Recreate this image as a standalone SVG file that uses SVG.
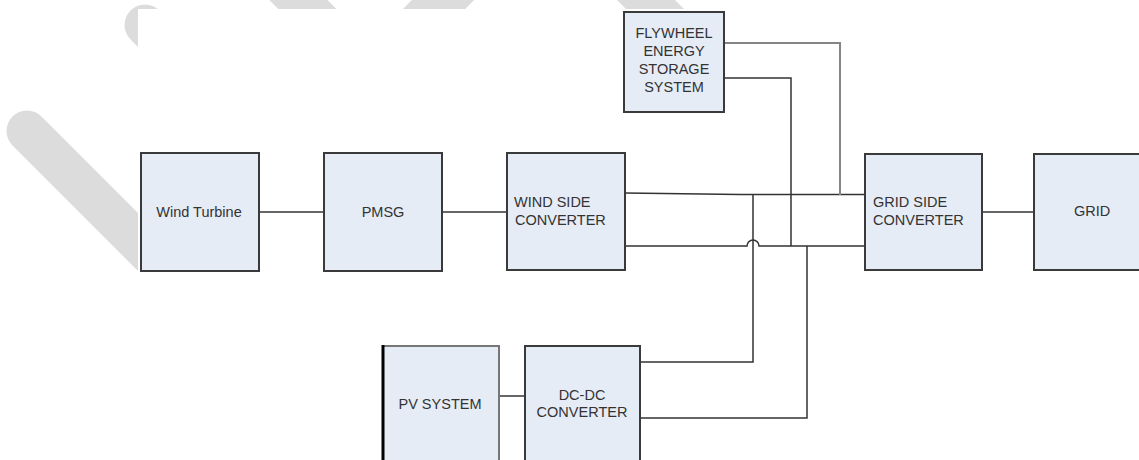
<svg xmlns="http://www.w3.org/2000/svg" width="1139" height="460" viewBox="0 0 1139 460">
<style>
.node{fill:#E6ECF6;stroke:#3a3a3a;stroke-width:2}
.lbl{font-family:"Liberation Sans",Arial,sans-serif;font-size:14.5px;fill:#333}
.mid{text-anchor:middle}
.wire{fill:none;stroke:#333;stroke-width:1.5}
.wire-gray{fill:none;stroke:#858585;stroke-width:2}
.stripe{stroke:#DCDCDC;stroke-width:41;fill:none}
</style>
<rect width="1139" height="460" fill="#fff"/>
<g id="watermark">
<line class="stripe" x1="27" y1="131" x2="200" y2="304" stroke-linecap="round"/>
<line class="stripe" x1="145" y1="25" x2="300" y2="180" stroke-linecap="round"/>
<line class="stripe" x1="250" y1="-48" x2="400" y2="101"/>
<line class="stripe" x1="480" y1="-37" x2="300" y2="143" style="stroke-width:44"/>
<line class="stripe" x1="600" y1="-46" x2="750" y2="104"/>
<rect x="138" y="9" width="1001" height="451" fill="#fff"/>
</g>
<g id="connectors">
<path class="wire" d="M259 212H324"/>
<path class="wire" d="M442 212H507"/>
<path class="wire" d="M982 212H1034"/>
<path class="wire" d="M499 396H525"/>
<path class="wire" d="M625 193L740 194.5H865"/>
<path class="wire" d="M625 246H747A6 6 0 0 1 759 246H865"/>
<path class="wire" d="M753 194.5V362H640"/>
<path class="wire" d="M724 78H791V246"/>
<path class="wire-gray" d="M724 43H840V195"/>
<path class="wire" d="M637 418H807V246"/>
</g>
<g id="wind-turbine">
<rect class="node" x="141" y="153" width="118" height="118"/>
<text class="lbl mid" x="199" y="216.5">Wind Turbine</text>
</g>
<g id="pmsg">
<rect class="node" x="324" y="153" width="118" height="118"/>
<text class="lbl mid" x="383" y="216.5">PMSG</text>
</g>
<g id="wind-side-converter">
<rect class="node" x="507" y="153" width="118" height="117"/>
<text class="lbl" x="514" y="206.5">WIND SIDE</text>
<text class="lbl" x="515" y="224.5">CONVERTER</text>
</g>
<g id="flywheel">
<rect class="node" x="624" y="12" width="100" height="100"/>
<text class="lbl mid" x="674" y="37.5">FLYWHEEL</text>
<text class="lbl mid" x="674" y="56">ENERGY</text>
<text class="lbl mid" x="674" y="74">STORAGE</text>
<text class="lbl mid" x="674" y="92">SYSTEM</text>
</g>
<g id="grid-side-converter">
<rect class="node" x="865" y="154" width="117" height="116"/>
<text class="lbl" x="873" y="206.5">GRID SIDE</text>
<text class="lbl" x="873" y="224.5">CONVERTER</text>
</g>
<g id="grid">
<rect class="node" x="1034" y="154" width="120" height="116"/>
<text class="lbl mid" x="1092" y="216">GRID</text>
</g>
<g id="pv-system">
<rect class="node" x="383" y="346" width="116" height="130" style="stroke:#777"/>
<line x1="383" y1="345" x2="383" y2="460" stroke="#000" stroke-width="3"/>
<text class="lbl mid" x="440" y="409">PV SYSTEM</text>
</g>
<g id="dc-dc-converter">
<rect class="node" x="525" y="346" width="115" height="130"/>
<text class="lbl mid" x="582" y="400">DC-DC</text>
<text class="lbl mid" x="582" y="417">CONVERTER</text>
</g>
</svg>
